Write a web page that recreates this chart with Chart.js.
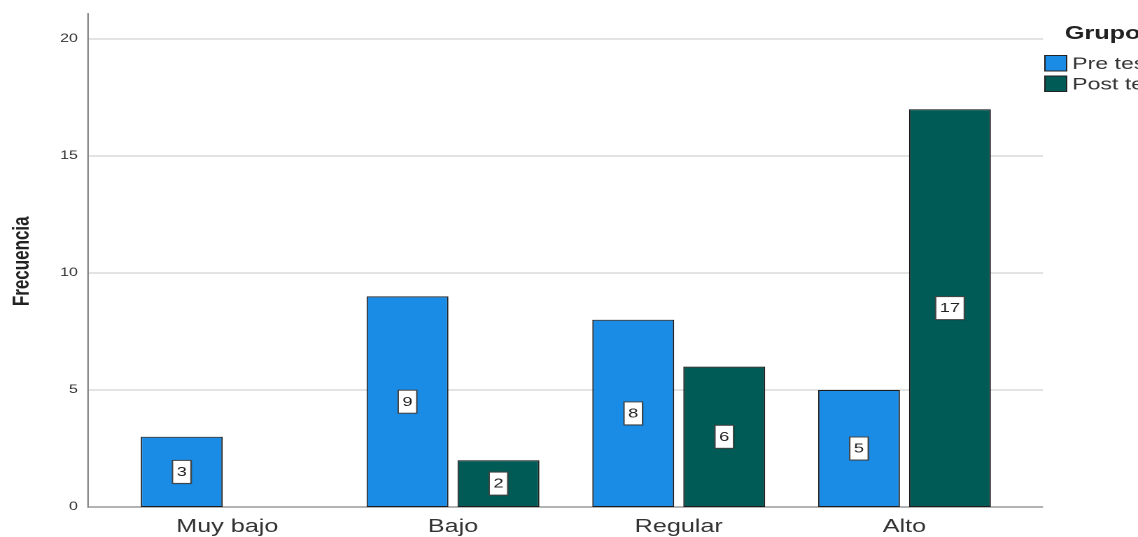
<!DOCTYPE html>
<html>
<head>
<meta charset="utf-8">
<style>
html,body{margin:0;padding:0;background:#fff;overflow:hidden;width:1138px;height:537px}
#wrap{position:absolute;left:0;top:0;width:813px;height:537px;transform:scaleX(1.39975);transform-origin:0 0}
canvas{display:block}
</style>
<script src="https://cdn.jsdelivr.net/npm/chart.js@4.4.1/dist/chart.umd.min.js"></script>
</head>
<body>
<div id="wrap"><canvas id="c" width="813" height="537" style="width:813px;height:537px"></canvas></div>
<script>
const categories = ['Muy bajo', 'Bajo', 'Regular', 'Alto'];
const preTest = [3, 9, 8, 5];
const postTest = [0, 2, 6, 17];
const seriesNames = ['Pre test', 'Post test'];
const legendTitle = 'Grupo';
const yTitle = 'Frecuencia';
const yTicks = [0, 5, 10, 15, 20];

const COL_PRE = '#1a8ce6';
const COL_POST = '#005a55';

Chart.defaults.font.family = '"Liberation Sans", Arial, sans-serif';
Chart.defaults.color = '#333';

const frame = {
  id: 'frame',
  beforeDatasetsDraw(chart) {
    const ctx = chart.ctx, y = chart.scales.y, a = chart.chartArea;
    const x0 = 62.9, x1 = 745.1;
    ctx.save();
    ctx.strokeStyle = '#d9d9d9';
    ctx.lineWidth = 1.6;
    y.ticks.forEach(t => {
      const py = y.getPixelForValue(t.value);
      ctx.beginPath(); ctx.moveTo(x0, py); ctx.lineTo(x1, py); ctx.stroke();
    });
    ctx.strokeStyle = '#a0a0a0';
    ctx.lineWidth = 1.6;
    const by = y.getPixelForValue(0);
    ctx.beginPath(); ctx.moveTo(x0, by); ctx.lineTo(x1, by); ctx.stroke();
    ctx.strokeStyle = '#8a8a8a';
    ctx.lineWidth = 1.2;
    ctx.beginPath(); ctx.moveTo(x0, a.top - 2.5); ctx.lineTo(x0, by + 0.8); ctx.stroke();
    ctx.restore();
  },
  afterDatasetsDraw(chart) {
    const ctx = chart.ctx;
    ctx.save();
    ctx.font = '13px "Liberation Sans", Arial, sans-serif';
    ctx.textAlign = 'center';
    ctx.textBaseline = 'middle';
    chart.data.datasets.forEach((ds, di) => {
      const meta = chart.getDatasetMeta(di);
      meta.data.forEach((el, i) => {
        const v = ds.data[i];
        if (!v) return;
        const txt = String(v);
        const cx = el.x, cy = (el.y + el.base) / 2;
        const w = ctx.measureText(txt).width + 6, h = 23;
        ctx.save();
        ctx.shadowColor = 'rgba(0,0,0,0.35)';
        ctx.shadowBlur = 2;
        ctx.shadowOffsetX = 0.7;
        ctx.shadowOffsetY = 0.7;
        ctx.fillStyle = '#ffffff';
        ctx.fillRect(cx - w / 2, cy - h / 2, w, h);
        ctx.restore();
        ctx.strokeStyle = '#444';
        ctx.lineWidth = 1;
        ctx.strokeRect(cx - w / 2, cy - h / 2, w, h);
        ctx.fillStyle = '#222';
        ctx.fillText(txt, cx, cy + 0.5);
      });
    });
    // legend
    ctx.textAlign = 'left';
    ctx.textBaseline = 'alphabetic';
    ctx.fillStyle = '#222';
    ctx.font = 'bold 18px "Liberation Sans", Arial, sans-serif';
    ctx.fillText(legendTitle, 760.8, 39);
    const cols = [COL_PRE, COL_POST];
    seriesNames.forEach((n, i) => {
      const sy = 55.5 + i * 20.5;
      ctx.fillStyle = cols[i];
      ctx.fillRect(746.5, sy, 15.5, 15.5);
      ctx.strokeStyle = '#222';
      ctx.lineWidth = 1;
      ctx.strokeRect(746.5, sy, 15.5, 15.5);
      ctx.fillStyle = '#333';
      ctx.font = '16.5px "Liberation Sans", Arial, sans-serif';
      ctx.fillText(n, 766, sy + 13.5);
    });
    ctx.restore();
  }
};

new Chart(document.getElementById('c'), {
  type: 'bar',
  data: {
    labels: categories,
    datasets: [
      { label: seriesNames[0], data: preTest, backgroundColor: COL_PRE, borderColor: '#1c1c1c', borderWidth: 1, borderSkipped: false },
      { label: seriesNames[1], data: postTest, backgroundColor: COL_POST, borderColor: '#1c1c1c', borderWidth: 1, borderSkipped: false }
    ]
  },
  options: {
    responsive: false,
    devicePixelRatio: 2,
    animation: false,
    categoryPercentage: 0.806,
    barPercentage: 0.9,
    layout: { padding: { left: 0, right: 86.2, top: 15.6, bottom: 0 } },
    plugins: { legend: { display: false }, tooltip: { enabled: false } },
    scales: {
      x: {
        grid: { display: false, drawTicks: true, tickLength: 6 },
        border: { display: false },
        ticks: { font: { size: 18 }, color: '#333', padding: 3 },
        afterFit(s) { s.height = 30; }
      },
      y: {
        min: 0, max: 21,
        afterBuildTicks(s) { s.ticks = yTicks.map(v => ({ value: v })); },
        grid: { display: false, drawTicks: true, tickLength: 24 },
        border: { display: false },
        ticks: { font: { size: 11.5 }, color: '#333', padding: 2 },
        title: { display: true, text: yTitle, font: { size: 17, weight: 'bold' }, color: '#222', padding: { top: 5.5, bottom: 0 } },
        afterFit(s) { s.width = 81.7; }
      }
    }
  },
  plugins: [frame]
});
</script>
</body>
</html>
